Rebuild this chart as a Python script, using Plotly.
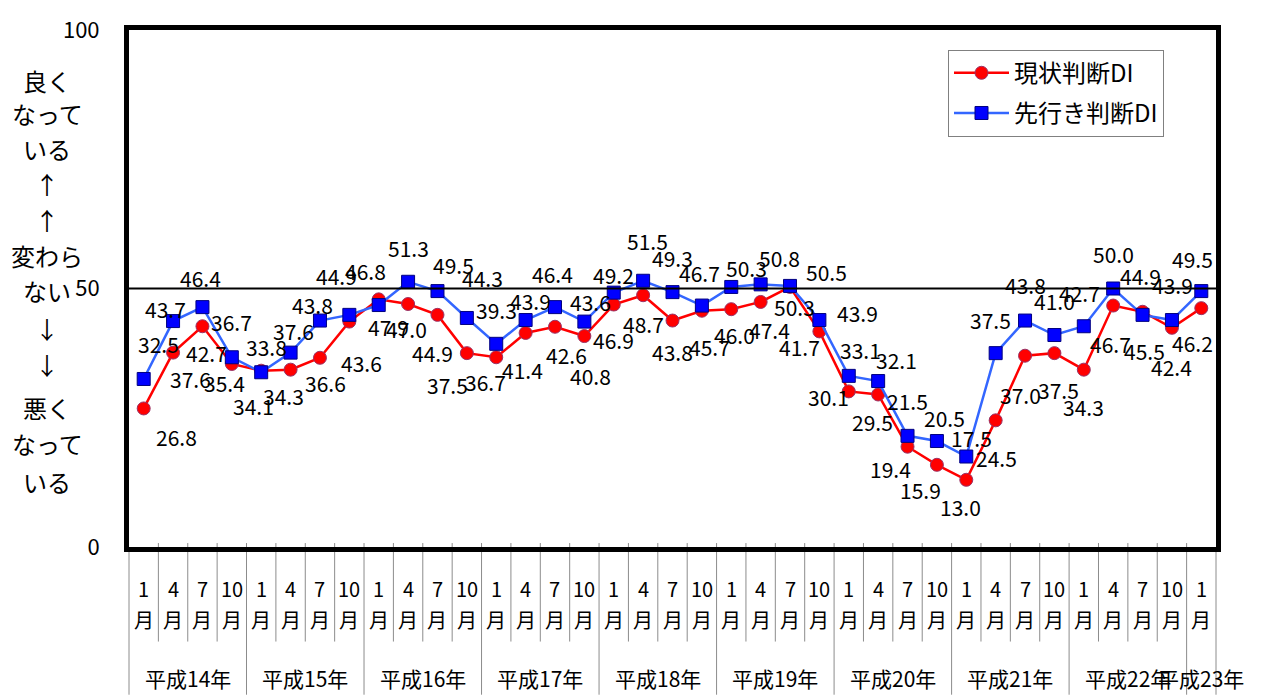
import plotly.graph_objects as go

# ---- data -------------------------------------------------------------
months = ["1", "4", "7", "10"] * 9 + ["1"]
years = ["平成14年", "平成15年", "平成16年", "平成17年", "平成18年",
         "平成19年", "平成20年", "平成21年", "平成22年", "平成23年"]
months_per_year = [4, 4, 4, 4, 4, 4, 4, 4, 4, 1]

current_di = [26.8, 37.6, 42.7, 35.4, 34.1, 34.3, 36.6, 43.6, 47.9, 47.0,
              44.9, 37.5, 36.7, 41.4, 42.6, 40.8, 46.9, 48.7, 43.8, 45.7,
              46.0, 47.4, 50.3, 41.7, 30.1, 29.5, 19.4, 15.9, 13.0, 24.5,
              37.0, 37.5, 34.3, 46.7, 45.5, 42.4, 46.2]
outlook_di = [32.5, 43.7, 46.4, 36.7, 33.8, 37.6, 43.8, 44.9, 46.8, 51.3,
              49.5, 44.3, 39.3, 43.9, 46.4, 43.6, 49.2, 51.5, 49.3, 46.7,
              50.3, 50.8, 50.5, 43.9, 33.1, 32.1, 21.5, 20.5, 17.5, 37.5,
              43.8, 41.0, 42.7, 50.0, 44.9, 43.9, 49.5]

# label offsets in pixels (right, down) relative to each marker
cur_dx = [33, 17, 4, -7, -8, -7, 6, 12, 10, -2, -5, -19, -11, -3, 12, 6, 0, 0, 0, 8,
          3, 9, 4, -20, -20, -6, -17, -16, -6, 1, -5, 4, 0, -3, 2, 0, -9]
cur_dy = [29, 26, 27, 19, 35, 26, 25, 41, 28, 25, 38, 32, 25, 37, 28, 40, 35, 29, 31, 36,
          26, 28, 20, 16, 6, 28, 22, 25, 27, 38, 39, 37, 37, 38, 39, 39, 35]
out_dx = [15, -8, -2, 0, 5, 3, -7, -13, -13, 0, 16, 16, 0, 5, -2, 6, 0, 4, 0, -2,
          15, 19, 36, 38, 12, 18, 0, 8, 5, -5, 0, 0, -4, 0, -2, 1, -9]
out_dy = [-35, -12, -29, -35, -25, -22, -16, -39, -34, -34, -26, -40, -34, -19, -33, -20,
          -18, -40, -34, -33, -19, -26, -14, -7, -26, -21, -35, -23, -19, -33, -36, -34,
          -33, -35, -39, -35, -32]

# ---- layout geometry (pixels) ------------------------------------------
W, H = 1262, 697
ML, MR, MT, MB = 129, 46, 22, 150
PW, PH = W - ML - MR, H - MT - MB
N = len(months)

FONT = "Noto Sans CJK JP, Noto Sans, sans-serif"


def ypaper(ypix):
    return (H - MB - ypix) / PH


def xpaper(xdata):
    return (xdata + 0.5) / N


x = list(range(N))

fig = go.Figure()
fig.add_trace(go.Scatter(
    x=x, y=current_di, name="現状判断DI", mode="lines+markers",
    line=dict(color="#FF0000", width=2.5),
    marker=dict(symbol="circle", size=13, color="#FF0000",
                line=dict(color="#993366", width=1)),
    legendgroup="a",
))
fig.add_trace(go.Scatter(
    x=x, y=outlook_di, name="先行き判断DI", mode="lines+markers",
    line=dict(color="#3366FF", width=2.5),
    marker=dict(symbol="square", size=13, color="#0000FF",
                line=dict(color="#000080", width=1)),
    legendgroup="b",
))

shapes = []
annotations = []

# reference line at 50
shapes.append(dict(type="line", xref="paper", yref="y", x0=0, x1=1, y0=50, y1=50,
                   line=dict(color="black", width=2), layer="above"))

# category table under the plot: month separators and year separators
year_edges = [0]
for c in months_per_year:
    year_edges.append(year_edges[-1] + c)
for i in range(N + 1):
    xp = xpaper(i - 0.5)
    is_year = i in year_edges
    top = ypaper(543) if 0 < i < N else 0
    bottom = ypaper(H) if is_year else ypaper(643)
    shapes.append(dict(type="line", xref="paper", yref="paper", x0=xp, x1=xp,
                       y0=top, y1=bottom, line=dict(color="#8c8c8c", width=1),
                       layer="below"))


def label(xv, yv, text, size, xref="x", yref="paper", **kw):
    return dict(xref=xref, yref=yref, x=xv, y=yv, text=text, showarrow=False,
                xanchor="center", yanchor="middle",
                font=dict(size=size, color="black", family=FONT), **kw)


for i, m in enumerate(months):
    annotations.append(label(i, ypaper(589), m, 20))
    annotations.append(label(i, ypaper(621), "月", 20))

for k, yr in enumerate(years):
    c0, c1 = year_edges[k], year_edges[k + 1]
    annotations.append(label((c0 + c1 - 1) / 2, ypaper(680), yr, 21))

# value labels
for i in range(N):
    annotations.append(label(i, current_di[i], f"{current_di[i]:.1f}", 21, yref="y",
                             xshift=cur_dx[i], yshift=-cur_dy[i]))
    annotations.append(label(i, outlook_di[i], f"{outlook_di[i]:.1f}", 21, yref="y",
                             xshift=out_dx[i], yshift=-out_dy[i]))

# vertical axis caption
caption = ["良く", "なって", "いる", "↑", "↑", "変わら", "ない", "↓", "↓",
           "悪く", "なって", "いる"]
cap_y = [73, 107, 142, 178, 214, 251, 287, 325, 362, 405, 442, 480]
for t, yy in zip(caption, cap_y):
    annotations.append(label((47 - ML) / PW, ypaper(yy), t, 24, xref="paper"))

fig.update_layout(
    width=W, height=H,
    margin=dict(l=ML, r=MR, t=MT, b=MB),
    paper_bgcolor="white", plot_bgcolor="white",
    font=dict(family=FONT, color="black"),
    showlegend=True,
    legend=dict(x=(948 - ML) / PW, y=ypaper(42), xanchor="left", yanchor="top",
                bgcolor="white", bordercolor="#808080", borderwidth=1,
                font=dict(size=24, family=FONT, color="black"),
                itemwidth=55, tracegroupgap=6),
    xaxis=dict(range=[-0.5, N - 0.5], showticklabels=False, ticks="",
               showgrid=False, zeroline=False,
               showline=True, linecolor="black", linewidth=5, mirror=True),
    yaxis=dict(range=[0, 100], tickvals=[0, 50, 100], ticks="",
               showgrid=False, zeroline=False,
               tickfont=dict(size=22, family=FONT, color="black"),
               ticklabelstandoff=20,
               showline=True, linecolor="black", linewidth=5, mirror=True),
    shapes=shapes,
    annotations=annotations,
)

fig.write_html("out.html")
